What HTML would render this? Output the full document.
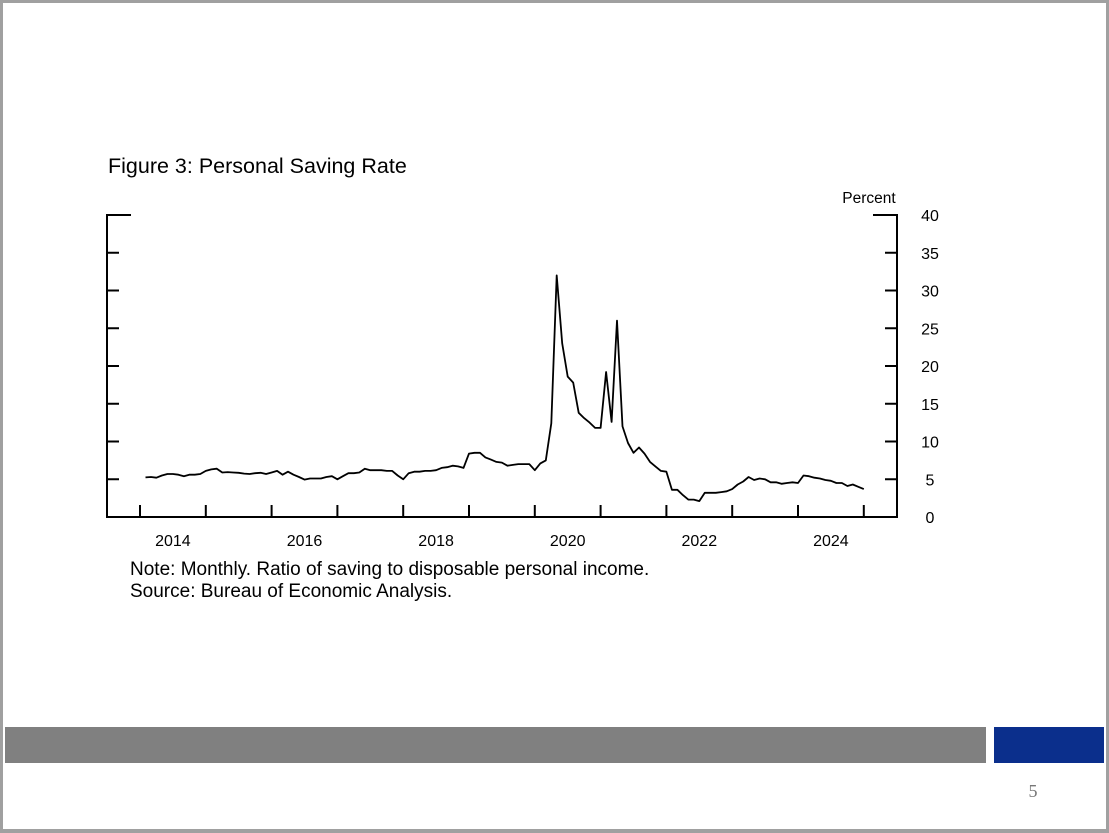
<!DOCTYPE html>
<html><head><meta charset="utf-8"><style>
html,body{margin:0;padding:0;background:#fff}
body{width:1109px;height:832px;position:relative;overflow:hidden;font-family:"Liberation Sans",sans-serif}
#frame{position:absolute;left:0;top:0;width:1103px;height:826px;border:3px solid #a0a0a0;border-right-width:4px;border-bottom-width:4px;box-sizing:content-box}
</style></head><body>
<div id="frame"></div>
<svg width="1109" height="832" style="position:absolute;left:0;top:0">
<text x="108" y="173" font-size="21.5" font-family="Liberation Sans, sans-serif" fill="#000">Figure 3: Personal Saving Rate</text>
<text x="869" y="203" font-size="15.5" text-anchor="middle" font-family="Liberation Sans, sans-serif">Percent</text>
<g id="axes"></g>
<path id="line" fill="none" stroke="#000" stroke-width="1.8" stroke-linejoin="round"/>
<text x="130" y="575" font-size="19" font-family="Liberation Sans, sans-serif">Note: Monthly. Ratio of saving to disposable personal income.</text>
<text x="130" y="597" font-size="19" font-family="Liberation Sans, sans-serif">Source: Bureau of Economic Analysis.</text>
<rect x="5" y="727" width="981" height="36" fill="#808080"/>
<rect x="994" y="727" width="110" height="36" fill="#0b2f8c"/>
<text x="1033" y="797" font-size="18" text-anchor="middle" font-family="Liberation Serif, serif" fill="#777">5</text>
</svg>
<script>
const values = [5.25,5.3,5.2,5.5,5.7,5.7,5.6,5.4,5.6,5.6,5.7,6.1,
6.3,6.4,5.9,5.95,5.9,5.85,5.75,5.7,5.8,5.85,5.7,5.9,
6.1,5.6,6.0,5.6,5.3,4.95,5.1,5.1,5.1,5.3,5.4,5.0,
5.4,5.8,5.8,5.9,6.4,6.2,6.2,6.2,6.1,6.1,5.5,5.0,
5.8,6.0,6.0,6.1,6.1,6.2,6.5,6.6,6.8,6.7,6.5,8.4,
8.5,8.5,7.9,7.6,7.3,7.2,6.8,6.9,7.0,7.0,7.0,6.2,
7.1,7.5,12.4,32,23,18.6,17.8,13.8,13.1,12.5,11.8,11.8,
19.2,12.6,26,12.0,9.8,8.5,9.2,8.4,7.3,6.7,6.1,6.0,
3.6,3.6,2.9,2.3,2.3,2.1,3.2,3.2,3.2,3.3,3.4,3.7,
4.3,4.7,5.3,4.9,5.1,5.0,4.6,4.6,4.4,4.5,4.6,4.5,
5.5,5.4,5.2,5.1,4.9,4.8,4.5,4.5,4.1,4.3,4.0,3.7];
const startYear = 2014;
const yearTicks = [2014,2015,2016,2017,2018,2019,2020,2021,2022,2023,2024,2025];
const yearLabels = [2014,2016,2018,2020,2022,2024];
const yTicks = [0,5,10,15,20,25,30,35,40];

const X0=140, YW=65.8, L=107, R=897, B=517, T=215;
const xScale = yrs => X0 + (yrs - startYear)*YW;
const yScale = v => B - (v/40)*(B-T);
const NS="http://www.w3.org/2000/svg";
const ax=document.getElementById('axes');
function mk(tag, attrs){const e=document.createElementNS(NS,tag);for(const k in attrs)e.setAttribute(k,attrs[k]);ax.appendChild(e);return e;}
let e;
e=mk('path',{d:`M131 ${T}H${L}V${B}H${R}V${T}H873`,fill:'none',stroke:'#000','stroke-width':2});


yTicks.forEach(v=>{
  const y=yScale(v);
  if(v>0&&v<40){
    e=mk('line',{x1:L,x2:L+12,y1:y,y2:y,stroke:'#000','stroke-width':2});
    
    
    e=mk('line',{x1:R-12,x2:R,y1:y,y2:y,stroke:'#000','stroke-width':2});
    
    
  }
  e=mk('text',{x:930,y:y+6,'font-size':16,'text-anchor':'middle','font-family':'Liberation Sans, sans-serif'});
  e.textContent=v;
  
  
});
yearTicks.forEach(yr=>{
  const x=xScale(yr);
  e=mk('line',{x1:x,x2:x,y1:B,y2:B-12,stroke:'#000','stroke-width':2});
  
  
});
yearLabels.forEach(yr=>{
  e=mk('text',{x:xScale(yr+0.5),y:546,'font-size':16,'text-anchor':'middle','font-family':'Liberation Sans, sans-serif'});
  e.textContent=yr;
  
  
});
document.getElementById('line').setAttribute('d',
  values.map((v,i)=>(i?'L':'M')+xScale(startYear+(i+1)/12).toFixed(1)+' '+yScale(v).toFixed(1)).join(''));
</script>
</body></html>
